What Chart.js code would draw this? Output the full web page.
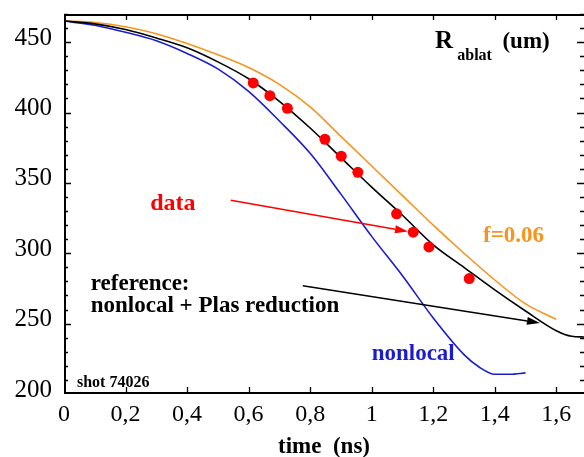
<!DOCTYPE html>
<html><head><meta charset="utf-8">
<script src="https://cdn.jsdelivr.net/npm/chart.js@4.4.1/dist/chart.umd.min.js"></script>
<style>html,body{margin:0;padding:0;background:#fff;overflow:hidden}canvas{display:block}</style>
</head><body>
<canvas id="c" width="584" height="457" style="width:584px;height:457px"></canvas>
<script>
// ---- tick labels ----
const xTickValues = [0, 0.2, 0.4, 0.6, 0.8, 1, 1.2, 1.4, 1.6];
const xTickLabels = ['0', '0,2', '0,4', '0,6', '0,8', '1', '1,2', '1,4', '1,6'];
const yTickValues = [200, 250, 300, 350, 400, 450];
const yTickLabels = ['200', '250', '300', '350', '400', '450'];

// ---- series: reference (nonlocal + Plas reduction), black ----
const timeRef   = [0, 0.1, 0.2, 0.3, 0.4, 0.5, 0.6, 0.7, 0.8, 0.9, 1.0, 1.1, 1.2, 1.3, 1.4, 1.5, 1.6, 1.65, 1.69];
const radiusRef = [465, 463, 459, 453, 446, 436, 424, 408, 389, 368, 347, 327, 306, 290, 274, 259, 245, 241, 240.5];

// ---- series: f=0.06, orange ----
const timeF   = [0, 0.1, 0.2, 0.3, 0.4, 0.5, 0.6, 0.7, 0.8, 0.9, 1.0, 1.1, 1.2, 1.3, 1.4, 1.5, 1.6];
const radiusF = [465, 464, 461, 456, 449, 441, 432, 420, 404, 383, 362, 341, 320, 300, 281, 264, 253];

// ---- series: nonlocal, blue ----
const timeNl   = [0, 0.1, 0.2, 0.3, 0.4, 0.5, 0.6, 0.7, 0.8, 0.9, 1.0, 1.1, 1.2, 1.3, 1.35, 1.4, 1.45, 1.5];
const radiusNl = [465, 462, 457, 451, 442, 431, 415, 394, 371, 342, 312, 284, 254, 228, 219, 214, 214, 215];

// ---- measured data, red dots ----
const timeData   = [0.615, 0.669, 0.726, 0.848, 0.901, 0.955, 1.081, 1.135, 1.186, 1.317];
const radiusData = [421, 412, 403, 381, 369, 357.5, 328, 315, 304.5, 282];

const pts = (xs, ys) => xs.map((x, i) => ({x: x, y: ys[i]}));

const ORANGE = '#F7941D', BLUE = '#1C1CCF', RED = '#FF0000';
const SERIF = '"Liberation Serif", "Times New Roman", serif';

// annotations (positions in data units)
const notes = [
  {text: 'data', t: 0.280, r: 331, font: 'bold 24px ' + SERIF, color: RED},
  {text: 'reference:', t: 0.087, r: 274, font: 'bold 23px ' + SERIF, color: '#000'},
  {text: 'nonlocal + Plas reduction', t: 0.087, r: 258.4, font: 'bold 23px ' + SERIF, color: '#000'},
  {text: 'nonlocal', t: 1.0, r: 224, font: 'bold 23px ' + SERIF, color: BLUE},
  {text: 'f=0.06', t: 1.362, r: 308, font: 'bold 23px ' + SERIF, color: ORANGE},
  {text: 'shot 74026', t: 0.042, r: 205, font: 'bold 16px ' + SERIF, color: '#000'},
  {text: 'R', t: 1.206, r: 445.5, font: 'bold 25px ' + SERIF, color: '#000'},
  {text: 'ablat', t: 1.278, r: 437, font: 'bold 16px ' + SERIF, color: '#000'},
  {text: '(um)', t: 1.425, r: 445.5, font: 'bold 23px ' + SERIF, color: '#000'}
];
const arrows = [
  {t1: 0.542, r1: 337.6, t2: 1.118, r2: 315.5, color: RED},
  {t1: 0.776, r1: 276.9, t2: 1.547, r2: 250.5, color: '#000'}
];

const decor = {
  id: 'decor',
  afterDatasetsDraw(chart) {
    const ctx = chart.ctx, xs = chart.scales.x, ys = chart.scales.y;
    ctx.save();
    arrows.forEach(a => {
      const x1 = xs.getPixelForValue(a.t1), y1 = ys.getPixelForValue(a.r1);
      const x2 = xs.getPixelForValue(a.t2), y2 = ys.getPixelForValue(a.r2);
      const ang = Math.atan2(y2 - y1, x2 - x1), L = 13, W = 4;
      ctx.strokeStyle = a.color; ctx.fillStyle = a.color; ctx.lineWidth = 1.5;
      ctx.beginPath(); ctx.moveTo(x1, y1);
      ctx.lineTo(x2 - L * Math.cos(ang), y2 - L * Math.sin(ang)); ctx.stroke();
      ctx.beginPath(); ctx.moveTo(x2, y2);
      ctx.lineTo(x2 - L * Math.cos(ang) + W * Math.sin(ang), y2 - L * Math.sin(ang) - W * Math.cos(ang));
      ctx.lineTo(x2 - L * Math.cos(ang) - W * Math.sin(ang), y2 - L * Math.sin(ang) + W * Math.cos(ang));
      ctx.closePath(); ctx.fill();
    });
    ctx.textAlign = 'left'; ctx.textBaseline = 'alphabetic';
    notes.forEach(n => {
      ctx.font = n.font; ctx.fillStyle = n.color;
      ctx.fillText(n.text, xs.getPixelForValue(n.t), ys.getPixelForValue(n.r));
    });
    ctx.restore();
  },
  afterDraw(chart) {
    const ctx = chart.ctx, a = chart.chartArea, xs = chart.scales.x, ys = chart.scales.y;
    ctx.save();
    ctx.strokeStyle = '#000';
    ctx.lineWidth = 2;
    ctx.beginPath();
    ctx.moveTo(a.right, a.top + 1); ctx.lineTo(a.left + 1, a.top + 1);
    ctx.lineTo(a.left + 1, a.bottom - 1); ctx.lineTo(a.right, a.bottom - 1);
    ctx.stroke();
    ctx.lineWidth = 1.3;
    ctx.beginPath();
    xTickValues.forEach(v => {
      if (v === 0) return;
      const x = Math.round(xs.getPixelForValue(v)) + 0.5;
      ctx.moveTo(x, a.bottom); ctx.lineTo(x, a.bottom - 7);
      ctx.moveTo(x, a.top); ctx.lineTo(x, a.top + 6);
    });
    for (let v = 210; v <= 470; v += 10) {
      const y = Math.round(ys.getPixelForValue(v)) + 0.5;
      const len = (v % 50 === 0) ? 7 : 4;
      ctx.moveTo(a.left, y); ctx.lineTo(a.left + len, y);
      ctx.moveTo(a.right, y); ctx.lineTo(a.right - len, y);
    }
    ctx.stroke();
    ctx.restore();
  }
};

new Chart(document.getElementById('c'), {
  type: 'line',
  data: {
    datasets: [
      {label: 'data', type: 'scatter', order: 0, data: pts(timeData, radiusData), showLine: false, pointRadius: 5.5, pointHoverRadius: 5.5, pointBackgroundColor: RED, pointBorderWidth: 0, pointBorderColor: RED},
      {label: 'reference', order: 1, data: pts(timeRef, radiusRef), borderColor: '#000', borderWidth: 1.6, pointRadius: 0, cubicInterpolationMode: 'monotone', fill: false},
      {label: 'nonlocal', order: 2, data: pts(timeNl, radiusNl), borderColor: BLUE, borderWidth: 1.6, pointRadius: 0, cubicInterpolationMode: 'monotone', fill: false},
      {label: 'f=0.06', order: 3, data: pts(timeF, radiusF), borderColor: ORANGE, borderWidth: 1.6, pointRadius: 0, cubicInterpolationMode: 'monotone', fill: false}
    ]
  },
  options: {
    responsive: false,
    animation: false,
    devicePixelRatio: 1,
    layout: {autoPadding: false, padding: {top: 14, right: 0, left: 0, bottom: 0}},
    plugins: {legend: {display: false}, tooltip: {enabled: false}},
    scales: {
      x: {
        type: 'linear', min: 0, max: 1.69,
        grid: {display: false, drawTicks: false},
        border: {display: false},
        afterBuildTicks: s => { s.ticks = xTickValues.map(v => ({value: v})); },
        afterFit: s => { s.height = 63; s.paddingLeft = 0; s.paddingRight = 0; s.paddingTop = 0; s.paddingBottom = 0; },
        ticks: {
          padding: 6, color: '#000', maxRotation: 0, autoSkip: false,
          font: {family: SERIF, size: 24},
          callback: v => { const i = xTickValues.findIndex(t => Math.abs(t - v) < 1e-6); return i >= 0 ? xTickLabels[i] : ''; }
        },
        title: {display: true, text: 'time  (ns)', color: '#000', padding: {top: 0, bottom: 0},
                font: {family: SERIF, size: 23, weight: 'bold', lineHeight: 0.85}}
      },
      y: {
        type: 'linear', min: 200, max: 470,
        grid: {display: false, drawTicks: false},
        border: {display: false},
        afterBuildTicks: s => { s.ticks = yTickValues.map(v => ({value: v})); },
        afterFit: s => { s.width = 64; s.paddingLeft = 0; s.paddingRight = 0; s.paddingTop = 0; s.paddingBottom = 0; },
        ticks: {
          padding: 12, color: '#000', labelOffset: -4,
          font: {family: SERIF, size: 25},
          callback: v => { const i = yTickValues.indexOf(v); return i >= 0 ? yTickLabels[i] : ''; }
        }
      }
    }
  },
  plugins: [decor]
});
</script>
</body></html>
